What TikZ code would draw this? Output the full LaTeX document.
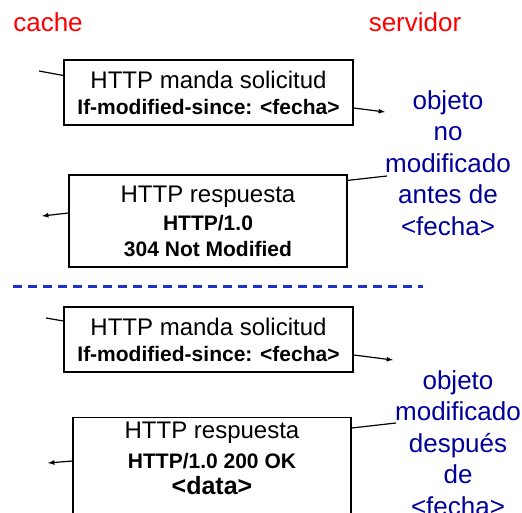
\documentclass[tikz,border=0pt]{standalone}
\usepackage{fontspec}
\setmainfont{Liberation Sans}
\usetikzlibrary{positioning}
\definecolor{azul}{RGB}{0,0,153}
\definecolor{raya}{RGB}{30,50,200}

\begin{document}
\begin{tikzpicture}[x=1pt,y=-1pt,>=latex,
		msg/.style={draw=black,
				rectangle,
				line width=1.2pt,
				inner sep=0pt,
				font=\fontsize{24}{26}\selectfont,
				align=center},
		lado/.style={text=red, font=\fontsize{26}{30}\selectfont},
		nota/.style={text=azul, align=center, font=\fontsize{26}{31.5}\selectfont},
		flecha/.style={line width=1.2pt}]
	\useasboundingbox (0,0) rectangle (522,513);
	\node[lado] (cache) at (48,22) {cache};
	\node[lado] (serv) at (415,22) {servidor};
	% primera consulta
	\node[msg,minimum width=289pt,minimum height=65pt] (sol1) at (208.5,92.5) {HTTP manda solicitud\\{\fontsize{21}{26}\selectfont\bfseries If-modified-since: <fecha>}};
	\node[msg,minimum width=278pt,minimum height=92pt] (resp1) at (208,221) {HTTP respuesta\\[2pt]{\fontsize{21}{24}\selectfont\bfseries HTTP/1.0}\\{\fontsize{21}{24}\selectfont\bfseries 304 Not Modified}};
	\node[nota] (nomod) at (448,163) {objeto\\no\\modificado\\antes de\\<fecha>};
	\coordinate (c1) at (39,71);
	\coordinate (s1) at (385,112);
	\coordinate (s2) at (387,176);
	\coordinate (c2) at (42,216);
	\draw[flecha] (c1)--([yshift=17pt]sol1.west);
	\draw[flecha,->] ([yshift=-15.5pt]sol1.east)--(s1);
	\draw[flecha] ([yshift=-6pt]resp1.north east)--(s2);
	\draw[flecha,->] ([yshift=8pt]resp1.west)--(c2);
	% separador
	\coordinate (dl) at (13,286);
	\coordinate (dr) at (423,286);
	\draw[raya,line width=3pt,dash pattern=on 9pt off 6pt] (dl)--(dr);
	% segunda consulta
	\node[msg,minimum width=289pt,minimum height=65pt] (sol2) at (208.5,339.5) {HTTP manda solicitud\\{\fontsize{21}{26}\selectfont\bfseries If-modified-since: <fecha>}};
	\node[msg,minimum width=278pt,anchor=north,inner ysep=4pt] (resp2) at (212,417) {HTTP respuesta\\[4pt]{\fontsize{21}{24}\selectfont\bfseries HTTP/1.0 200 OK}\\{\fontsize{25}{27}\selectfont\bfseries <data>}\\[20pt]\mbox{}};
	\node[nota] (simod) at (458,443) {objeto\\modificado\\después\\de\\<fecha>};
	\coordinate (c3) at (46,318);
	\coordinate (s3) at (393,360);
	\coordinate (s4) at (396,423);
	\coordinate (c4) at (48,463);
	\draw[flecha] (c3)--([yshift=18.5pt]sol2.west);
	\draw[flecha,->] ([yshift=-15.5pt]sol2.east)--(s3);
	\draw[flecha] ([yshift=-11pt]resp2.north east)--(s4);
	\draw[flecha,->] ([yshift=-44pt]resp2.north west)--(c4);
\end{tikzpicture}
\end{document}
